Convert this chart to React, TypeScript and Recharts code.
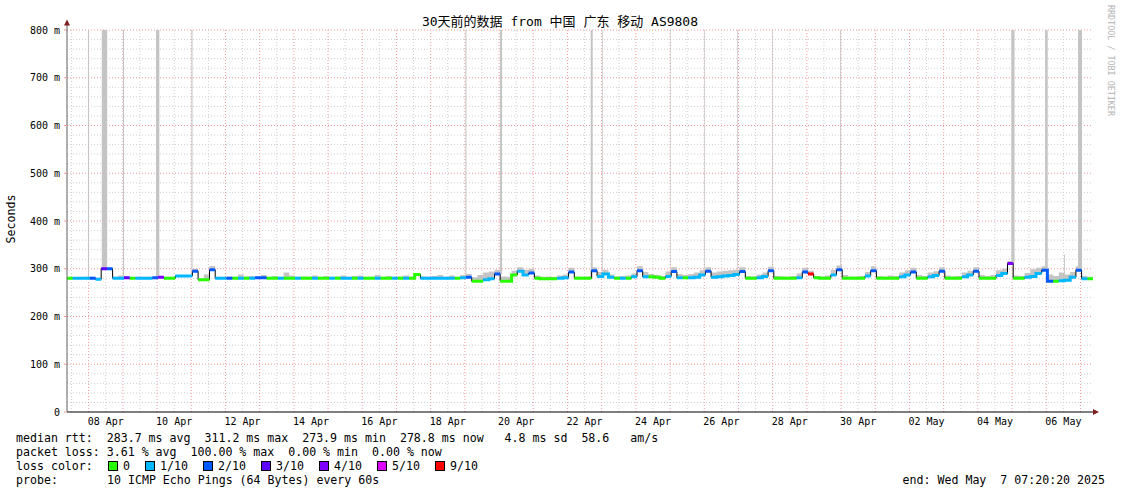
import React from "react";
import {
  Area,
  CartesianGrid,
  ComposedChart,
  Line,
  ReferenceArea,
  XAxis,
  YAxis,
} from "recharts";

const W = 1121;
const H = 494;
const PLOT_LEFT = 67;
const PLOT_RIGHT = 1093;
const PLOT_TOP = 30;
const PLOT_BOTTOM = 412;
const Y_AXIS_W = 60;
const X_AXIS_H = 20;
const MONO = "'DejaVu Sans Mono', 'Noto Sans CJK SC', monospace";

const SPAN_HOURS = 720; // 30 days
const STEP = 4; // hours per sample
const FIRST_MIDNIGHT = 15.2; // 08 Apr 00:00, hours after start

// median rtt in ms, one value per 4 hours
const medianRtt = [
  280, 280, 280, 280, 280, 278, 300, 300, 280, 280,
  281, 280, 280, 280, 280, 281, 282, 280, 280, 285,
  285, 285, 295, 277, 277, 298, 280, 280, 280, 280,
  280, 280, 280, 281, 281, 280, 280, 280, 280, 280,
  280, 280, 280, 280, 280, 280, 280, 280, 280, 280,
  280, 280, 280, 280, 280, 280, 280, 280, 280, 280,
  280, 288, 280, 280, 280, 280, 280, 280, 280, 281,
  282, 274, 274, 277, 279, 289, 274, 274, 287, 295,
  287, 291, 280, 279, 279, 279, 280, 281, 293, 280,
  280, 280, 296, 284, 289, 282, 280, 280, 280, 283,
  296, 283, 283, 282, 280, 284, 294, 281, 281, 281,
  282, 287, 295, 282, 283, 285, 286, 288, 294, 280,
  280, 281, 284, 296, 280, 280, 280, 280, 281, 293,
  289, 281, 280, 280, 287, 298, 280, 280, 280, 280,
  285, 296, 280, 280, 280, 280, 283, 287, 293, 280,
  280, 283, 286, 295, 280, 280, 280, 283, 287, 295,
  280, 280, 280, 286, 290, 311, 280, 280, 282, 284,
  290, 297, 274, 274, 275, 276, 282, 297, 279, 279,
];

// packet loss bucket (x/10) per sample
const lossLevel = [
  0, 1, 1, 1, 2, 1, 3, 2, 1, 1,
  3, 0, 1, 1, 1, 2, 4, 0, 0, 1,
  1, 1, 2, 0, 0, 2, 1, 1, 2, 0,
  1, 0, 1, 2, 2, 0, 0, 1, 0, 0,
  1, 0, 0, 1, 0, 0, 1, 0, 1, 1,
  0, 1, 0, 0, 1, 0, 0, 1, 0, 1,
  0, 0, 1, 1, 1, 1, 1, 1, 0, 1,
  2, 0, 0, 1, 1, 2, 0, 0, 0, 1,
  1, 2, 0, 0, 0, 0, 1, 1, 2, 0,
  0, 0, 2, 1, 1, 1, 0, 1, 0, 1,
  2, 1, 0, 0, 0, 1, 2, 1, 0, 1,
  1, 1, 2, 1, 1, 1, 1, 1, 2, 0,
  0, 1, 1, 2, 0, 0, 0, 0, 1, 2,
  9, 0, 0, 0, 1, 2, 0, 0, 0, 0,
  1, 2, 0, 0, 0, 0, 1, 1, 2, 0,
  0, 1, 1, 2, 0, 0, 0, 1, 1, 2,
  0, 0, 0, 1, 1, 4, 0, 0, 1, 1,
  1, 2, 2, 0, 1, 1, 1, 2, 1, 0,
];

// upper edge of the smoke (slowest ping) per sample
const smokeTop = [
  282, 282, 282, 283, 283, 281, 303, 303, 283, 286,
  284, 282, 283, 282, 283, 284, 285, 282, 282, 287,
  286, 286, 300, 280, 288, 306, 283, 282, 284, 283,
  288, 284, 285, 283, 287, 283, 285, 283, 292, 286,
  283, 284, 283, 286, 283, 285, 283, 284, 286, 283,
  285, 286, 283, 283, 287, 283, 285, 283, 284, 286,
  283, 290, 284, 283, 285, 287, 283, 286, 283, 287,
  289, 282, 287, 292, 294, 298, 284, 283, 296, 303,
  298, 300, 286, 283, 284, 283, 286, 288, 302, 284,
  283, 284, 303, 293, 298, 288, 284, 285, 286, 290,
  305, 293, 289, 287, 285, 294, 303, 289, 287, 289,
  292, 297, 303, 292, 294, 296, 297, 298, 303, 285,
  284, 288, 292, 304, 285, 284, 283, 285, 290, 302,
  296, 285, 284, 286, 298, 307, 287, 284, 283, 285,
  293, 305, 285, 284, 286, 285, 292, 297, 302, 287,
  285, 292, 295, 303, 286, 284, 285, 292, 296, 303,
  287, 285, 287, 297, 300, 316, 286, 285, 291, 299,
  302, 305, 288, 285, 292, 288, 293, 305, 285, 283,
];

// tall smoke spikes: [start hour, width in hours, top ms]
const spikes = [
  [14.7, 0.7, 800], [24.4, 3.8, 800], [39.3, 0.7, 800], [62.5, 2.3, 800],
  [87.3, 0.8, 800], [279.6, 0.7, 800], [303.9, 1.4, 800], [367.5, 1.4, 800],
  [375.5, 0.5, 800], [423.2, 0.4, 800], [447.0, 0.5, 800], [470.4, 0.5, 800],
  [494.7, 0.5, 800], [542.6, 0.6, 800], [662.7, 2.2, 800], [686.4, 1.8, 800],
  [709.5, 2.8, 800], [699.7, 0.6, 330],
];

const dayLabels = [
  "08 Apr", "10 Apr", "12 Apr", "14 Apr", "16 Apr", "18 Apr", "20 Apr", "22 Apr",
  "24 Apr", "26 Apr", "28 Apr", "30 Apr", "02 May", "04 May", "06 May",
];
const yTicks = [0, 100, 200, 300, 400, 500, 600, 700, 800];

const lossLegend = [
  { label: "0", level: 0, color: "#26ff00" },
  { label: "1/10", level: 1, color: "#00b8ff" },
  { label: "2/10", level: 2, color: "#0059ff" },
  { label: "3/10", level: 3, color: "#5e00ff" },
  { label: "4/10", level: 4, color: "#7e00ff" },
  { label: "5/10", level: 5, color: "#dd00ff" },
  { label: "9/10", level: 9, color: "#ff0000" },
];

const statLines = [
  "median rtt:  283.7 ms avg  311.2 ms max  273.9 ms min  278.8 ms now   4.8 ms sd  58.6   am/s",
  "packet loss: 3.61 % avg  100.00 % max  0.00 % min  0.00 % now",
];
const probeText = "10 ICMP Echo Pings (64 Bytes) every 60s";
const endText = "end: Wed May  7 07:20:20 2025";

// each sample becomes a flat step: a start row and an end row
const rows: any[] = [];
medianRtt.forEach((m, i) => {
  const key = "c" + lossLevel[i];
  const band = [m, smokeTop[i]];
  rows.push({ t: i * STEP, m, smoke: band, [key]: m });
  rows.push({ t: (i + 1) * STEP, m, smoke: band, [key]: m });
});

// day labels sit at noon of every second day
const labelTicks = dayLabels.map((_, k) => FIRST_MIDNIGHT + 12 + 48 * k);
const majorX = Array.from({ length: 30 }, (_, k) => FIRST_MIDNIGHT + 24 * k);
const minorX = Array.from({ length: 30 }, (_, k) => FIRST_MIDNIGHT - 12 + 24 * k);
const majorY = yTicks.slice(1);
const minorY = Array.from({ length: 40 }, (_, k) => k * 20).filter((v) => v % 100 !== 0);

const CHAR_W = 7;

const XTick = ({ x, y, index }: any) => (
  <text x={x} y={y + 11} textAnchor="middle" fontSize={10} fontFamily={MONO} fill="#000" stroke="none">
    {dayLabels[index]}
  </text>
);

const YTick = ({ x, y, payload }: any) => (
  <text x={x} y={y + 3.5} textAnchor="end" fontSize={10} fontFamily={MONO} fill="#000" stroke="none">
    {payload.value === 0 ? "0" : `${payload.value} m`}
  </text>
);

const App = () => {
  let lx = 108;
  const legendItems = lossLegend.map((item) => {
    const box = lx;
    lx = box + 15 + item.label.length * CHAR_W + 15;
    return { ...item, box };
  });

  return (
    <div
      style={{
        position: "absolute",
        left: 0,
        top: 0,
        width: W,
        height: H,
        background: "#fff",
      }}
    >
      <ComposedChart
        width={W}
        height={H}
        data={rows}
        margin={{
          top: PLOT_TOP,
          right: W - PLOT_RIGHT,
          bottom: H - PLOT_BOTTOM - X_AXIS_H,
          left: PLOT_LEFT - Y_AXIS_W,
        }}
      >
        <CartesianGrid
          stroke="#cfcfcf"
          strokeDasharray="1 2"
          verticalValues={minorX}
          horizontalValues={minorY}
        />
        <CartesianGrid
          stroke="#f19a9a"
          strokeDasharray="1 2"
          verticalValues={majorX}
          horizontalValues={majorY}
        />
        <XAxis
          type="number"
          dataKey="t"
          domain={[0, SPAN_HOURS]}
          allowDataOverflow
          ticks={labelTicks}
          interval={0}
          height={X_AXIS_H}
          tickLine={false}
          tickSize={0}
          tickMargin={2}
          axisLine={{ stroke: "#000" }}
          tick={<XTick />}
        />
        <YAxis
          type="number"
          domain={[0, 800]}
          allowDataOverflow
          ticks={yTicks}
          interval={0}
          width={Y_AXIS_W}
          tickSize={3}
          tickMargin={4}
          tickLine={{ stroke: "#f19a9a" }}
          axisLine={{ stroke: "#606060" }}
          tick={<YTick />}
        />
        {spikes.map(([t, w, top], k) => (
          <ReferenceArea
            key={"s" + k}
            x1={t}
            x2={t + w}
            y1={medianRtt[Math.floor(t / STEP)]}
            y2={top}
            fill="#c4c4c4"
            fillOpacity={1}
            stroke="none"
          />
        ))}
        <Area
          type="linear"
          dataKey="smoke"
          stroke="none"
          fill="#c4c4c4"
          fillOpacity={1}
          isAnimationActive={false}
          dot={false}
          activeDot={false}
        />
        <Line
          type="linear"
          dataKey="m"
          stroke="#000"
          strokeWidth={1}
          dot={false}
          activeDot={false}
          isAnimationActive={false}
        />
        {lossLegend.map((item) => (
          <Line
            key={item.level}
            type="linear"
            dataKey={"c" + item.level}
            stroke={item.color}
            strokeWidth={3}
            strokeLinecap="butt"
            dot={false}
            activeDot={false}
            connectNulls={false}
            isAnimationActive={false}
          />
        ))}
      </ComposedChart>

      <svg
        width={W}
        height={H}
        style={{ position: "absolute", left: 0, top: 0, pointerEvents: "none" }}
      >
        <text x={560} y={26} textAnchor="middle" fontSize={13} fontFamily={MONO} fill="#000">
          30天前的数据 from 中国 广东 移动 AS9808
        </text>
        <text
          x={15}
          y={219}
          transform="rotate(-90 15 219)"
          textAnchor="middle"
          fontSize={11.6}
          fontFamily={MONO}
          fill="#000"
        >
          Seconds
        </text>
        <text
          x={1108}
          y={5}
          transform="rotate(90 1108 5)"
          fontSize={8.4}
          fontFamily={MONO}
          fill="#b4b4b4"
        >
          RRDTOOL / TOBI OETIKER
        </text>
        <line x1={PLOT_LEFT} y1={PLOT_TOP} x2={PLOT_LEFT} y2={24} stroke="#606060" />
        <polygon points="64,25.5 70,25.5 67,19.5" fill="#7f1f1f" />
        <line x1={PLOT_RIGHT} y1={PLOT_BOTTOM} x2={1095} y2={PLOT_BOTTOM} stroke="#000" />
        <polygon points="1093,409 1093,415 1099,412" fill="#7f1f1f" />

        {statLines.map((s, k) => (
          <text
            key={k}
            x={16}
            y={442 + 14 * k}
            fontSize={11.6}
            fontFamily={MONO}
            fill="#000"
            style={{ whiteSpace: "pre" }}
          >
            {s}
          </text>
        ))}
        <text x={16} y={470} fontSize={11.6} fontFamily={MONO} fill="#000">
          loss color:
        </text>
        {legendItems.map((item) => (
          <g key={item.level}>
            <rect x={item.box + 0.5} y={461.5} width={9} height={9} fill={item.color} stroke="#000" />
            <text x={item.box + 15} y={470} fontSize={11.6} fontFamily={MONO} fill="#000">
              {item.label}
            </text>
          </g>
        ))}
        <text x={16} y={484} fontSize={11.6} fontFamily={MONO} fill="#000">
          probe:
        </text>
        <text x={107} y={484} fontSize={11.6} fontFamily={MONO} fill="#000">
          {probeText}
        </text>
        <text
          x={1105}
          y={484}
          textAnchor="end"
          fontSize={11.6}
          fontFamily={MONO}
          fill="#000"
          style={{ whiteSpace: "pre" }}
        >
          {endText}
        </text>
      </svg>
    </div>
  );
};

export default App;
